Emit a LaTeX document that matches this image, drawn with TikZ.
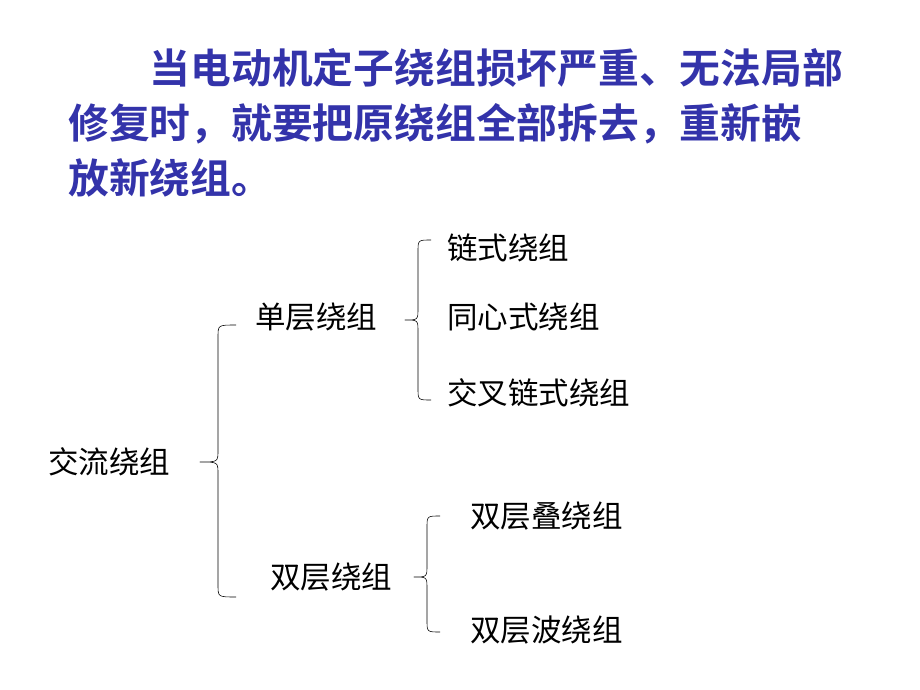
\documentclass[tikz,border=0pt]{standalone}
\usepackage{fontspec}
\setmainfont{Noto Sans CJK SC}
\newfontfamily\cjkbold{Noto Sans CJK SC Bold}
\usetikzlibrary{calc}
\definecolor{titleblue}{RGB}{51,51,170}
\tikzset{
  leaf/.style={anchor=west, inner sep=0pt, font=\fontsize{21.7}{24}\selectfont},
  brc/.style={thin, line join=round}
}
% brace: tip x, tip y, top y, bottom y, width
\newcommand{\bracepath}[5]{%
  \draw [brc] ({#1+#5},#3) .. controls ({#1+#5/2},#3) .. ({#1+#5/2},{#3+12})
    -- ({#1+#5/2},{#2-12}) .. controls ({#1+#5/2},#2) .. (#1,#2)
    .. controls ({#1+#5/2},#2) .. ({#1+#5/2},{#2+12})
    -- ({#1+#5/2},{#4-12}) .. controls ({#1+#5/2},#4) .. ({#1+#5},#4);}
\begin{document}
\begin{tikzpicture}[x=0.025cm,y=-0.025cm]
  \useasboundingbox [fill=white] (0,0) rectangle (920,690);
  % title
  \node [anchor=north west, inner sep=0pt, text=titleblue, align=left,
    font=\cjkbold\fontsize{29}{39}\selectfont] (title) at (68,48)
    {\hspace{2em}当电动机定子绕组损坏严重、无法局部\\修复时，就要把原绕组全部拆去，重新嵌\\放新绕组。};
  % tree
  \node [leaf] (root) at (48,462) {交流绕组};
  \node [leaf] (single) at (255,317) {单层绕组};
  \node [leaf] (double) at (270,577) {双层绕组};
  \node [leaf] (chain) at (447,248) {链式绕组};
  \node [leaf] (conc) at (447,317) {同心式绕组};
  \node [leaf] (cross) at (447,393) {交叉链式绕组};
  \node [leaf] (lap) at (470,516) {双层叠绕组};
  \node [leaf] (wave) at (470,630) {双层波绕组};
  % braces
  \bracepath{200}{462}{325}{597}{36}
  \bracepath{405}{320}{240}{400}{26}
  \bracepath{414}{577}{516}{632}{26}
\end{tikzpicture}
\end{document}
